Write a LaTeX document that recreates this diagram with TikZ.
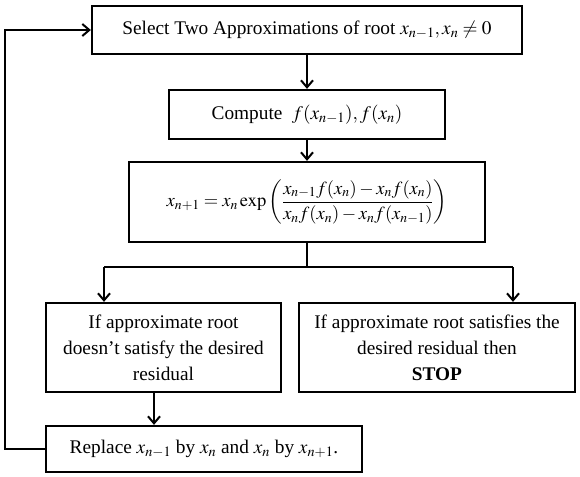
\documentclass[tikz,border=0pt]{standalone}
\usepackage{amsmath}
\usepackage{mathptmx}
\usepackage{fontspec}
\setmainfont{Liberation Serif}
\usetikzlibrary{arrows.meta}
\tikzset{
  box/.style={draw, line width=2.3pt, align=center, inner sep=2pt, font=\fontsize{19.3}{26}\selectfont},
  conn/.style={line width=2pt, -{Straight Barb[length=7pt,width=12pt]}},
  plain/.style={line width=2pt}
}
\begin{document}
\begin{tikzpicture}[x=1pt,y=-1pt]
\useasboundingbox (0,0) rectangle (580,476);
\node[box, minimum width=430pt, minimum height=48pt] (b1) at (307,30)
  {Select Two Approximations of root $x_{n-1},x_n\neq 0$};
\node[box, minimum width=276pt, minimum height=49pt] (b2) at (307,114.5)
  {Compute\ \ $f(x_{n-1}),f(x_n)$};
\node[box, minimum width=356pt, minimum height=80pt, font=\fontsize{18.5}{26}\selectfont] (b3) at (307,202)
  {$x_{n+1}=x_n\exp\left(\dfrac{x_{n-1}f(x_n)-x_nf(x_n)}{x_nf(x_n)-x_nf(x_{n-1})}\right)$};
\node[box, minimum width=235pt, minimum height=89pt] (b4) at (163.5,347.5)
  {If approximate root\\doesn’t satisfy the desired\\residual};
\node[box, minimum width=276pt, minimum height=89pt] (b5) at (437,347.5)
  {If approximate root satisfies the\\desired residual then\\\textbf{STOP}};
\node[box, minimum width=316pt, minimum height=46pt] (b6) at (204,449)
  {Replace $x_{n-1}$ by $x_n$ and $x_n$ by $x_{n+1}$.};
\coordinate (j) at (307,267);
\coordinate (jl) at (104,267);
\coordinate (jr) at (513,267);
\coordinate (lb) at (5,449);
\coordinate (lt) at (5,30);
\draw[conn] (b1.south) -- (b2.north);
\draw[conn] (b2.south) -- (b3.north);
\draw[plain] (b3.south) -- (j);
\draw[plain] (jl) -- (jr);
\draw[conn] (jl) -- (jl |- b4.north);
\draw[conn] (jr) -- (jr |- b5.north);
\draw[conn] ([xshift=-9.5pt]b4.south) -- ([xshift=-9.5pt]b4.south |- b6.north);
\draw[conn] (b6.west) -- (lb) -- (lt) -- (b1.west);
\end{tikzpicture}
\end{document}
